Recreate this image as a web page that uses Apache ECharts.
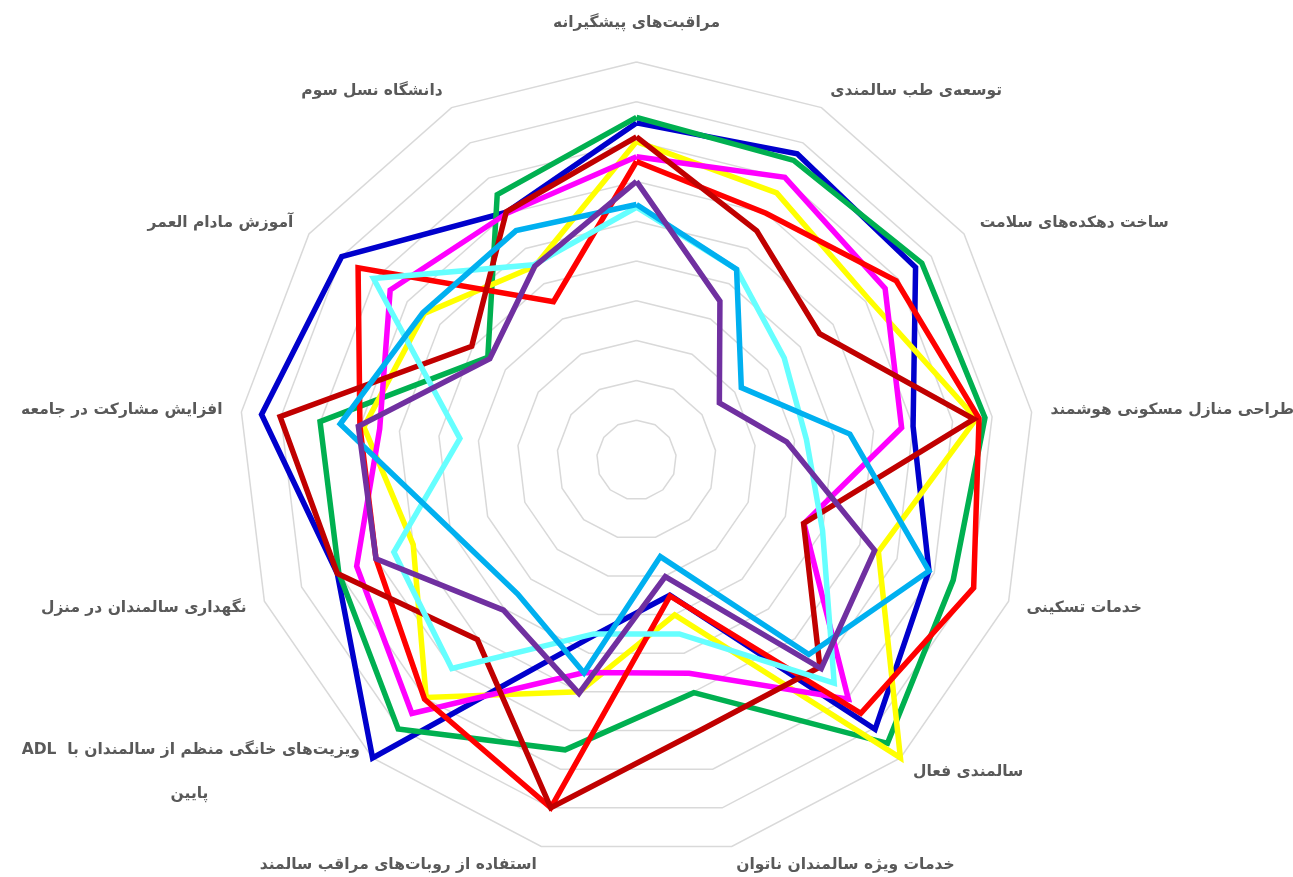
<!DOCTYPE html>
<html>
<head>
<meta charset="utf-8">
<script src="https://cdn.jsdelivr.net/npm/echarts@6/dist/echarts.min.js"></script>
<style>
html,body{margin:0;padding:0;background:#fff;}
#chart{width:1293px;height:877px;}
</style>
</head>
<body>
<div id="chart" dir="rtl"></div>
<script>
// Indicator names in clockwise order starting from the top
const indicatorNames = [
  'مراقبت\u200Cهای پیشگیرانه',
  'توسعه\u200Cی طب سالمندی',
  'ساخت دهکده\u200Cهای سلامت',
  'طراحی منازل مسکونی هوشمند',
  'خدمات تسکینی',
  'سالمندی فعال',
  'خدمات ویژه سالمندان ناتوان',
  'استفاده از روبات\u200Cهای مراقب سالمند',
  'ویزیت\u200Cهای خانگی منظم از سالمندان با  ADL\nپایین',
  'نگهداری سالمندان در منزل',
  'افزایش مشارکت در جامعه',
  'آموزش مادام العمر',
  'دانشگاه نسل سوم'
];
const axisMax = 10;

// Series values, same clockwise order as indicatorNames
const blueValues    = [8.47, 8.69, 8.52, 7.0, 7.86, 9.04, 3.5, 4.55, 10.0, 8.04, 9.49, 9.0, 7.03];
const greenValues   = [8.61, 8.5, 8.71, 8.82, 8.51, 9.51, 6.02, 7.5, 9.03, 8.0, 8.01, 4.54, 7.53];
const yellowValues  = [8.0, 7.58, 7.1, 8.6, 6.5, 10.0, 4.01, 6.0, 7.97, 6.0, 6.9, 6.48, 5.5];
const magentaValues = [7.62, 8.02, 7.59, 6.71, 4.5, 8.03, 5.52, 5.5, 8.51, 7.52, 6.5, 7.52, 7.0];
const redValues     = [7.5, 7.0, 7.93, 8.67, 9.06, 8.5, 3.52, 9.0, 8.03, 7.0, 7.0, 8.5, 4.49];
const darkRedValues = [8.12, 6.5, 5.59, 8.54, 4.49, 6.95, 6.96, 9.0, 6.03, 8.04, 9.02, 5.03, 7.04];
const cyanValues    = [6.35, 5.41, 4.51, 4.3, 5.0, 7.49, 4.5, 4.5, 7.0, 6.52, 4.47, 8.03, 5.54];
const skyBlueValues = [6.42, 5.41, 3.2, 5.4, 7.86, 6.53, 2.5, 5.51, 4.5, 4.98, 7.5, 6.52, 6.51];
const purpleValues  = [7.0, 4.51, 2.53, 3.8, 6.4, 7.0, 3.02, 6.04, 5.04, 7.0, 7.04, 4.48, 5.5];

const seriesList = [
  { values: blueValues,    color: '#0000CC' },
  { values: greenValues,   color: '#00B050' },
  { values: yellowValues,  color: '#FFFF00' },
  { values: magentaValues, color: '#FF00FF' },
  { values: redValues,     color: '#FF0000' },
  { values: darkRedValues, color: '#C00000' },
  { values: cyanValues,    color: '#66FFFF' },
  { values: skyBlueValues, color: '#00B0F0' },
  { values: purpleValues,  color: '#7030A0' }
];

// ECharts places indicators counter-clockwise; reorder so they appear clockwise
const n = indicatorNames.length;
const order = [0];
for (let i = n - 1; i >= 1; i--) order.push(i);

const FONT = 'DejaVu Sans';
const FONT_SIZE = 15.5;
const LABEL_COLOR = '#595959';

// measure the first line of the wrapped label to centre its second line
const mctx = document.createElement('canvas').getContext('2d');
mctx.font = 'bold ' + FONT_SIZE + 'px "' + FONT + '"';
let wrapWidth = 300;
indicatorNames.forEach(nm => {
  if (nm.indexOf('\n') >= 0) wrapWidth = Math.ceil(mctx.measureText(nm.split('\n')[0]).width) + 2;
});

const baseRich = { color: LABEL_COLOR, fontSize: FONT_SIZE, fontWeight: 'bold', fontFamily: FONT };

const chart = echarts.init(document.getElementById('chart'), null, { renderer: 'canvas' });
chart.setOption({
  animation: false,
  backgroundColor: '#ffffff',
  radar: {
    center: [636.5, 460],
    radius: 398,
    startAngle: 90,
    splitNumber: 10,
    shape: 'polygon',
    indicator: order.map(i => ({ name: indicatorNames[i], min: 0, max: axisMax })),
    nameGap: 19,
    axisName: {
      color: LABEL_COLOR,
      fontSize: FONT_SIZE,
      fontWeight: 'bold',
      fontFamily: FONT,
      formatter: function (name) {
        if (name === indicatorNames[0]) return '{t|' + name + '}';
        if (name.indexOf('\n') < 0) return name;
        const parts = name.split('\n');
        return '{a|' + parts[0] + '}\n{b|' + parts[1] + '}';
      },
      rich: {
        t: Object.assign({ lineHeight: 40 }, baseRich),
        a: Object.assign({ lineHeight: 44, width: wrapWidth, align: 'right' }, baseRich),
        b: Object.assign({ lineHeight: 44, width: wrapWidth, align: 'center' }, baseRich)
      }
    },
    axisLine: { show: false },
    axisTick: { show: false },
    axisLabel: { show: false },
    splitArea: { show: false },
    splitLine: { lineStyle: { color: '#D9D9D9', width: 1.5 } }
  },
  series: seriesList.map(s => ({
    type: 'radar',
    symbol: 'none',
    silent: true,
    lineStyle: { color: s.color, width: 5.5, join: 'miter', miterLimit: 6 },
    itemStyle: { color: s.color },
    data: [{ value: order.map(i => s.values[i]) }]
  }))
});
</script>
</body>
</html>
